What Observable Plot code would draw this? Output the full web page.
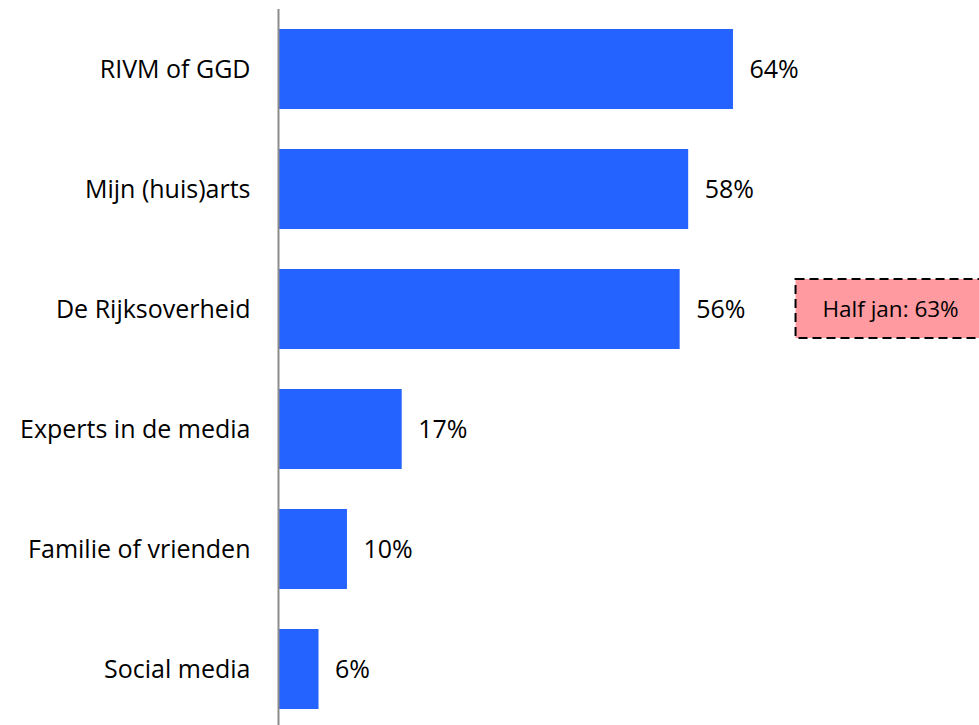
<!DOCTYPE html>
<html>
<head>
<meta charset="utf-8">
<script src="https://cdn.jsdelivr.net/npm/d3@7"></script>
<script src="https://cdn.jsdelivr.net/npm/@observablehq/plot@0.6"></script>
<style>
  html, body { margin: 0; padding: 0; background: #fff; overflow: hidden; }
  #chart { width: 979px; height: 725px; }
</style>
</head>
<body>
<div id="chart"></div>
<script>
// Data
const categories = ["RIVM of GGD", "Mijn (huis)arts", "De Rijksoverheid", "Experts in de media", "Familie of vrienden", "Social media"];
const values = [64, 57.7, 56.5, 17.4, 9.7, 5.7];
const valueLabels = ["64%", "58%", "56%", "17%", "10%", "6%"];
const annotationCategory = "De Rijksoverheid";
const annotationText = "Half jan: 63%";

const data = categories.map((c, i) => ({category: c, value: values[i], label: valueLabels[i]}));
const annotation = [{category: annotationCategory, text: annotationText}];

const blue = "#2463ff";
const font = "'Open Sans', sans-serif";

const chart = Plot.plot({
  width: 979,
  height: 725,
  marginTop: 9,
  marginBottom: 0,
  marginLeft: 278,
  marginRight: 0,
  style: {fontFamily: font, background: "#fff", color: "#000", overflow: "hidden"},
  x: {domain: [0, 100], range: [278, 278 + 710.9], axis: null},
  y: {domain: categories, range: [9, 729], paddingInner: 1 / 3, paddingOuter: 1 / 6},
  marks: [
    Plot.barX(data, {y: "category", x: "value", fill: blue}),
    Plot.text(data, {y: "category", x: "value", text: "label", textAnchor: "start", dx: 16, fontSize: 25, fill: "#000"}),
    Plot.rect(annotation, {y: "category", x1: 72.8, x2: 101, insetTop: 10, insetBottom: 11, fill: "#ff9ba0", stroke: "#000", strokeWidth: 2, strokeDasharray: "9,5"}),
    Plot.text(annotation, {y: "category", x: 86.1, text: "text", fontSize: 22.5, fill: "#000"}),
    Plot.ruleX([0], {stroke: "#8c8c8c", strokeWidth: 2}),
    Plot.axisY({tickSize: 0, tickPadding: 28, fontSize: 25, fill: "#000", label: null})
  ]
});
document.getElementById("chart").appendChild(chart);
</script>
</body>
</html>
